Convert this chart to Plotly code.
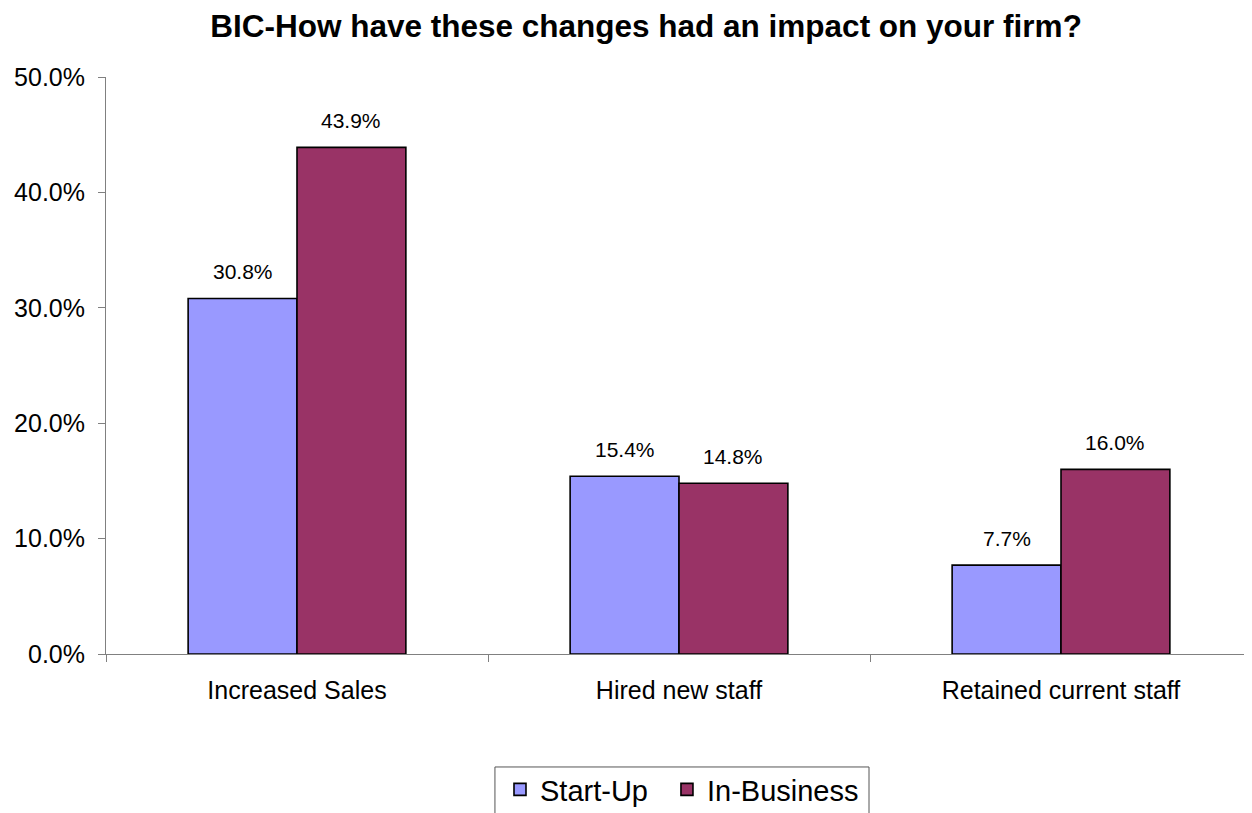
import plotly.graph_objects as go

categories = ["Increased Sales", "Hired new staff", "Retained current staff"]
startup = [30.8, 15.4, 7.7]
inbusiness = [43.9, 14.8, 16.0]
series_names = ["Start-Up", "In-Business"]
colors = ["#9999FF", "#993366"]
tick_vals = [0, 10, 20, 30, 40, 50]

FONT = "Liberation Sans, Arial, sans-serif"
BARGAP = 0.43

fig = go.Figure()
for name, vals, col, lg in zip(series_names, [startup, inbusiness], colors, ["legend", "legend2"]):
    fig.add_trace(go.Bar(
        name=name, x=categories, y=vals, legend=lg,
        marker=dict(color=col, line=dict(color="black", width=1.6)),
    ))

# data labels above bars
half = (1 - BARGAP) / 4
for k, vals in enumerate([startup, inbusiness]):
    off = -half if k == 0 else half
    for i, v in enumerate(vals):
        fig.add_annotation(x=i + off, y=v, xref="x", yref="y",
                           text=f"{v:.1f}%", showarrow=False, yshift=27,
                           font=dict(family=FONT, size=21, color="black"))

# legend frame
fig.add_shape(type="rect", xref="paper", yref="paper",
              x0=0.3394, x1=0.6658, y0=-0.32, y1=-0.1958,
              line=dict(color="#555555", width=1), fillcolor="rgba(0,0,0,0)")

legend_common = dict(orientation="h", xanchor="left", y=-0.1906, yanchor="top",
                     borderwidth=0, bgcolor="rgba(0,0,0,0)",
                     font=dict(family=FONT, size=29, color="black"))

fig.update_layout(
    width=1244, height=805,
    margin=dict(l=98, r=0, t=69, b=159, autoexpand=False),
    paper_bgcolor="white", plot_bgcolor="white",
    barmode="group", bargap=BARGAP, bargroupgap=0,
    font=dict(family=FONT, color="black"),
    title=dict(text="<b>BIC-How have these changes had an impact on your firm?</b>",
               x=0.5129, xanchor="center", y=1 - 18 / 805, yanchor="middle",
               font=dict(family=FONT, size=31.5, color="black")),
    showlegend=True,
    legend=dict(x=0.3438, **legend_common),
    legend2=dict(x=0.4895, **legend_common),
)
fig.update_yaxes(range=[0, 50], tickvals=tick_vals,
                 ticktext=[f"{t:.1f}%" for t in tick_vals],
                 showgrid=False, zeroline=False, showline=True, linecolor="#808080",
                 linewidth=1, ticks="outside", ticklen=7, tickcolor="#808080",
                 tickfont=dict(family=FONT, size=25, color="black"),
                 ticklabelstandoff=8)
fig.update_xaxes(range=[-0.5, 2.5], showgrid=False, showline=True, linecolor="#808080",
                 linewidth=1, ticks="outside", ticklen=7, tickcolor="#808080",
                 tickson="boundaries",
                 tickfont=dict(family=FONT, size=25, color="black"),
                 ticklabelstandoff=14)

fig.write_html("out.html")
